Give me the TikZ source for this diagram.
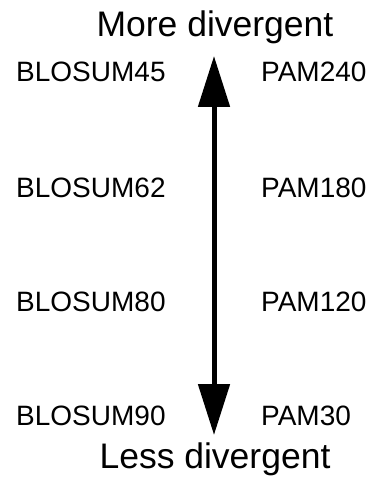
\documentclass[tikz,border=0pt]{standalone}
\usepackage{fontspec}
\setmainfont{Liberation Sans}
\usepackage{tikz}
\usetikzlibrary{arrows.meta}

\begin{document}
\begin{tikzpicture}[x=1bp, y=-1bp, lab node/.style={anchor=base west, inner sep=0pt, font=\fontsize{28bp}{30bp}\selectfont}, end node/.style={anchor=base, inner sep=0pt, font=\fontsize{35.5bp}{38bp}\selectfont}, div/.style={line width=5bp, {Triangle[length=51bp,width=31bp]}-{Triangle[length=51bp,width=31bp]}}]
\useasboundingbox (0,0) rectangle (374,480);
\node[end node] (more) at (215,37) {More divergent};
\node[end node] (less) at (215,468) {Less divergent};
\node[lab node] (b45) at (16,82) {BLOSUM45};
\node[lab node] (b62) at (16,197) {BLOSUM62};
\node[lab node] (b80) at (16,311) {BLOSUM80};
\node[lab node] (b90) at (16,425) {BLOSUM90};
\node[lab node] (p240) at (261,82) {PAM240};
\node[lab node] (p180) at (261,197) {PAM180};
\node[lab node] (p120) at (261,311) {PAM120};
\node[lab node] (p30) at (261,425) {PAM30};
\coordinate (top) at (214,56);
\coordinate (bot) at (214,435);
\draw[div] (top) -- (bot);
\end{tikzpicture}
\end{document}
